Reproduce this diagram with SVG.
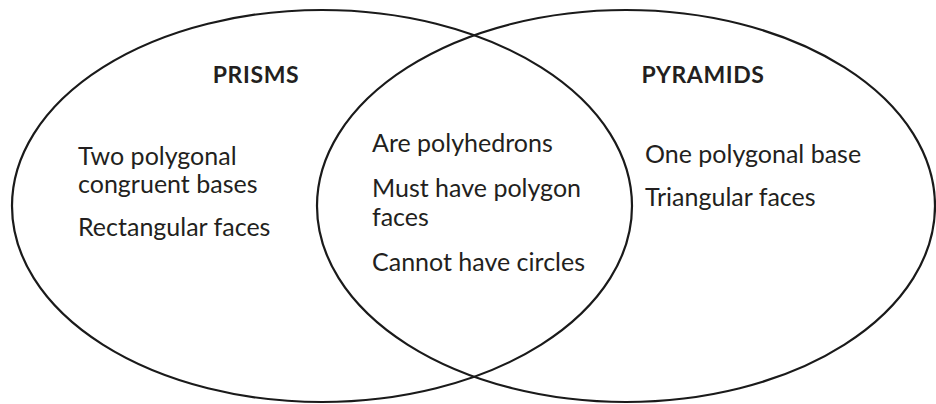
<svg xmlns="http://www.w3.org/2000/svg" width="936" height="404" viewBox="0 0 936 404">
<style>
.set{fill:none;stroke:#1a1a1a;stroke-width:2.2}
.t{font-family:Lato,"Open Sans","Liberation Sans",sans-serif;font-size:25px;fill:#231f20}
.h{font-family:Lato,"Open Sans","Liberation Sans",sans-serif;font-size:23px;font-weight:bold;fill:#231f20;text-anchor:middle;letter-spacing:0.6px}
</style>
<rect width="936" height="404" fill="#fff"/>
<g id="prisms">
<ellipse class="set" cx="322" cy="206" rx="310" ry="196"/>
<text class="h" x="256" y="83">PRISMS</text>
<text class="t" x="78" y="165">Two polygonal</text>
<text class="t" x="78" y="193">congruent bases</text>
<text class="t" x="78" y="236">Rectangular faces</text>
</g>
<g id="pyramids">
<ellipse class="set" cx="626" cy="206" rx="309" ry="196"/>
<text class="h" x="703" y="83">PYRAMIDS</text>
<text class="t" x="645" y="163">One polygonal base</text>
<text class="t" x="645" y="206">Triangular faces</text>
</g>
<g id="both">
<text class="t" x="372" y="152">Are polyhedrons</text>
<text class="t" x="372" y="197">Must have polygon</text>
<text class="t" x="372" y="226">faces</text>
<text class="t" x="372" y="271">Cannot have circles</text>
</g>
</svg>
